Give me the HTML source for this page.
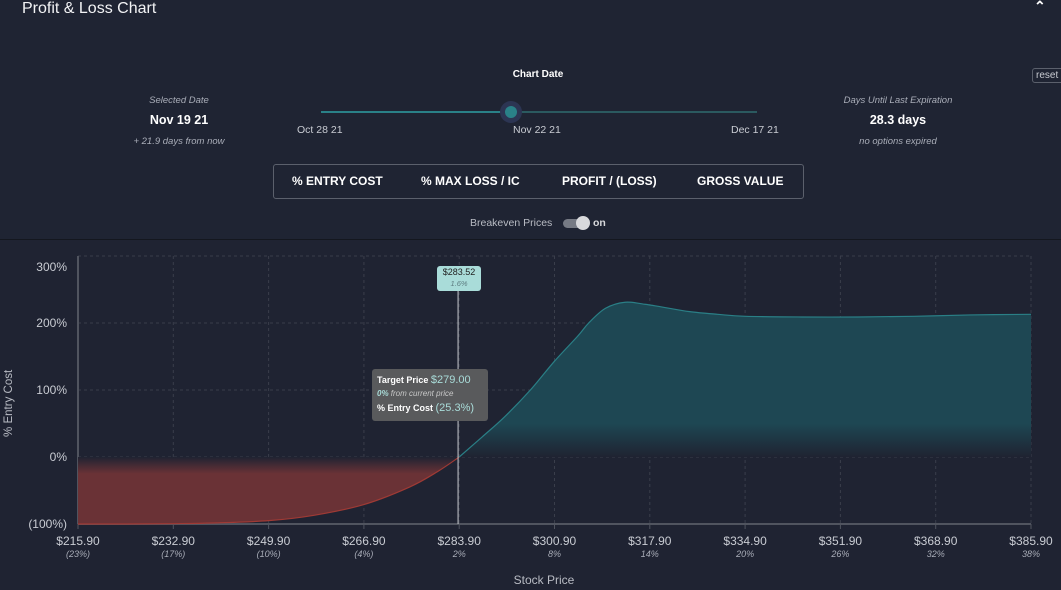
<!DOCTYPE html>
<html><head><meta charset="utf-8">
<style>
body{margin:0;width:1061px;height:590px;background:#1f2332;font-family:"Liberation Sans",sans-serif;overflow:hidden;position:relative;color:#fff}
.abs{position:absolute}
.c{text-align:center}
.it{font-style:italic;color:#a9adb8;font-size:9.5px}
</style></head><body>
<div class="abs" style="left:0;top:0;width:1061px;height:239px;background:#1f2433;border-bottom:1px solid #14171f"></div>
<div class="abs" style="left:22px;top:0px;font-size:16px;color:#f2f3f5">Profit &amp; Loss Chart</div>
<div class="abs" style="left:1034px;top:-2px;font-size:14px;font-weight:bold">&#8963;</div>

<div class="abs c it" style="left:119px;top:95px;width:120px">Selected Date</div>
<div class="abs c" style="left:119px;top:113px;width:120px;font-size:12.5px;font-weight:bold">Nov 19 21</div>
<div class="abs c it" style="left:109px;top:136px;width:140px">+ 21.9 days from now</div>

<div class="abs c" style="left:488px;top:69px;width:100px;font-size:10px;font-weight:bold">Chart Date</div>
<div class="abs" style="left:321px;top:111px;width:436px;height:2px;background:#2b5a60"></div>
<div class="abs" style="left:321px;top:111px;width:190px;height:2px;background:#2a8188"></div>
<div class="abs" style="left:500px;top:101px;width:22px;height:22px;border-radius:50%;background:#2c3553"></div>
<div class="abs" style="left:505px;top:106px;width:12px;height:12px;border-radius:50%;background:#2a8188"></div>
<div class="abs" style="left:297px;top:124px;font-size:10.5px;color:#c9ccd3">Oct 28 21</div>
<div class="abs" style="left:513px;top:124px;font-size:10.5px;color:#c9ccd3">Nov 22 21</div>
<div class="abs" style="left:731px;top:124px;font-size:10.5px;color:#c9ccd3">Dec 17 21</div>

<div class="abs c it" style="left:828px;top:95px;width:140px">Days Until Last Expiration</div>
<div class="abs c" style="left:838px;top:113px;width:120px;font-size:12.5px;font-weight:bold">28.3 days</div>
<div class="abs c it" style="left:828px;top:136px;width:140px">no options expired</div>
<div class="abs" style="left:1032px;top:68px;width:40px;height:13px;border:1px solid #5b606c;border-radius:3px;font-size:10px;color:#c9ccd3;padding-left:3px;line-height:13px">reset</div>

<div class="abs" style="left:273px;top:164px;width:529px;height:33px;border:1px solid #5b606c;border-radius:3px"></div>
<div class="abs" style="left:292px;top:174px;font-size:12px;font-weight:bold">% ENTRY COST</div>
<div class="abs" style="left:421px;top:174px;font-size:12px;font-weight:bold">% MAX LOSS / IC</div>
<div class="abs" style="left:562px;top:174px;font-size:12px;font-weight:bold">PROFIT / (LOSS)</div>
<div class="abs" style="left:697px;top:174px;font-size:12px;font-weight:bold">GROSS VALUE</div>

<div class="abs" style="left:470px;top:217px;font-size:10.5px;color:#b9bcc4">Breakeven Prices</div>
<div class="abs" style="left:563px;top:219px;width:24px;height:9px;border-radius:5px;background:#767a84"></div>
<div class="abs" style="left:576px;top:216px;width:14px;height:14px;border-radius:50%;background:#d8d9dc"></div>
<div class="abs" style="left:593px;top:217px;font-size:10.5px;font-weight:bold;color:#d8d9dc">on</div>

<svg class="abs" style="left:0;top:240px" width="1061" height="350" id="chart"></svg>

<div class="abs" style="left:437px;top:266px;width:44px;height:24px;background:#a9dcd9;border-radius:3px;text-align:center;color:#222;font-size:9px;line-height:11px;padding-top:1px">$283.52<br><i style="color:#5d7c80;font-size:7.5px">1.6%</i></div>
<div class="abs" style="left:372px;top:369px;width:116px;height:52px;background:#595a5c;border-radius:3px;font-size:9px;color:#fff">
<div style="position:absolute;left:5px;top:5px;font-weight:bold">Target Price <span style="color:#a9dcd9;font-weight:normal;font-size:11px">$279.00</span></div>
<div style="position:absolute;left:5px;top:20px;font-style:italic;color:#c8c8c8;font-size:8px"><b style="color:#a9dcd9">0%</b> from current price</div>
<div style="position:absolute;left:5px;top:33px;font-weight:bold">% Entry Cost <span style="color:#a9dcd9;font-weight:normal;font-size:11px">(25.3%)</span></div>
</div>

<script>
const prices=[215.9,224,232.9,240,249.9,258,266.9,275,280,283.9,288,292,296.6,300.9,305,307,310,313.5,317,320,325,330,335,345,355,365,375,385.9];
const pnl=[-100,-100,-99.5,-98.5,-95,-87,-71,-45,-22,0,30,60,100,143,180,200,222,231,228,224,217,213,210,209,209,210,212,213];
const xTicks=[215.9,232.9,249.9,266.9,283.9,300.9,317.9,334.9,351.9,368.9,385.9];
const xTickPct=["(23%)","(17%)","(10%)","(4%)","2%","8%","14%","20%","26%","32%","38%"];
const yTicks=[-100,0,100,200,300];
const yTickLabels=["(100%)","0%","100%","200%","300%"];
const breakeven=283.52;

const svg=document.getElementById('chart');
const NS='http://www.w3.org/2000/svg';
const OY=240;
const X=p=>78+(p-215.9)*(1031-78)/170;
const Y=v=>457-OY-v*67/100;
function mk(t,a){const e=document.createElementNS(NS,t);for(const k in a)e.setAttribute(k,a[k]);svg.appendChild(e);return e;}
const defs=mk('defs',{});
defs.innerHTML='<linearGradient id="gT" gradientUnits="userSpaceOnUse" x1="0" y1="'+Y(50)+'" x2="0" y2="'+Y(0)+'"><stop offset="0" stop-color="#1e4753"/><stop offset="1" stop-color="#1f2332"/></linearGradient><linearGradient id="gR" gradientUnits="userSpaceOnUse" x1="0" y1="'+Y(0)+'" x2="0" y2="'+Y(-25)+'"><stop offset="0" stop-color="#1f2332"/><stop offset="1" stop-color="#6a3236"/></linearGradient>';
yTicks.forEach((v,i)=>{
 const g=mk('line',{x1:78,x2:1031,y1:Y(v),y2:Y(v),stroke:v==-100?'#50545f':'#3a3e4b','stroke-dasharray':v==-100?'':'3,3','stroke-width':v==-100?2:1});
 
 
 const t=mk('text',{x:67,y:(v==300?Y(v)+15:Y(v)+4),'text-anchor':'end','font-size':12,fill:'#c9ccd3'});
 t.textContent=yTickLabels[i];
 
 
});
xTicks.forEach((p,i)=>{
 const g=mk('line',{x1:X(p),x2:X(p),y1:16,y2:Y(-100),stroke:'#3a3e4b','stroke-dasharray':'3,3'});
 
 
 mk('line',{x1:X(p),x2:X(p),y1:Y(-100),y2:Y(-100)+5,stroke:'#50545f'});
 const t=mk('text',{x:X(p),y:Y(-100)+21,'text-anchor':'middle','font-size':12,fill:'#c9ccd3'});
 t.textContent='$'+p.toFixed(2);
 
 
 const s=mk('text',{x:X(p),y:Y(-100)+33,'text-anchor':'middle','font-size':9,'font-style':'italic',fill:'#a9adb8'});
 s.textContent=xTickPct[i];
 
 
});
mk('line',{x1:78,x2:78,y1:16,y2:Y(-100),stroke:'#50545f','stroke-width':2});
mk('line',{x1:1031,x2:1031,y1:16,y2:Y(-100),stroke:'#3a3e4b','stroke-dasharray':'3,3'});
function curve(pts){let d='M'+pts[0][0]+','+pts[0][1];for(let i=0;i<pts.length-1;i++){const p0=pts[Math.max(0,i-1)],p1=pts[i],p2=pts[i+1],p3=pts[Math.min(pts.length-1,i+2)];
 d+=' C'+(p1[0]+(p2[0]-p0[0])/6)+','+(p1[1]+(p2[1]-p0[1])/6)+' '+(p2[0]-(p3[0]-p1[0])/6)+','+(p2[1]-(p3[1]-p1[1])/6)+' '+p2[0]+','+p2[1];}return d;}
const zi=pnl.findIndex(v=>v>=0);
const neg=[],pos=[];
prices.forEach((p,i)=>{if(i<=zi)neg.push([X(p),Y(pnl[i])]);if(i>=zi)pos.push([X(p),Y(pnl[i])]);});
const rd=curve(neg);
const ra=mk('path',{d:rd+' L'+neg[neg.length-1][0]+','+Y(0)+' L'+neg[0][0]+','+Y(0)+'Z',fill:'url(#gR)'});


mk('path',{d:rd,fill:'none',stroke:'#9e3a35','stroke-width':1.2});
const td=curve(pos);
const ta=mk('path',{d:td+' L'+pos[pos.length-1][0]+','+Y(0)+' L'+pos[0][0]+','+Y(0)+'Z',fill:'url(#gT)'});


mk('path',{d:td,fill:'none',stroke:'#2a7f86','stroke-width':1.2});
const bl=mk('line',{x1:X(breakeven)+1,x2:X(breakeven)+1,y1:40,y2:Y(-100),stroke:'#c8cbd0','stroke-width':1});


const yl=mk('text',{x:0,y:0,'text-anchor':'middle','font-size':11.5,fill:'#b9bcc4',transform:'translate(12,'+Y(80)+') rotate(-90)'});
yl.textContent='% Entry Cost';


const xl=mk('text',{x:544,y:344,'text-anchor':'middle','font-size':12,fill:'#b9bcc4'});
xl.textContent='Stock Price';


</script>
</body></html>
